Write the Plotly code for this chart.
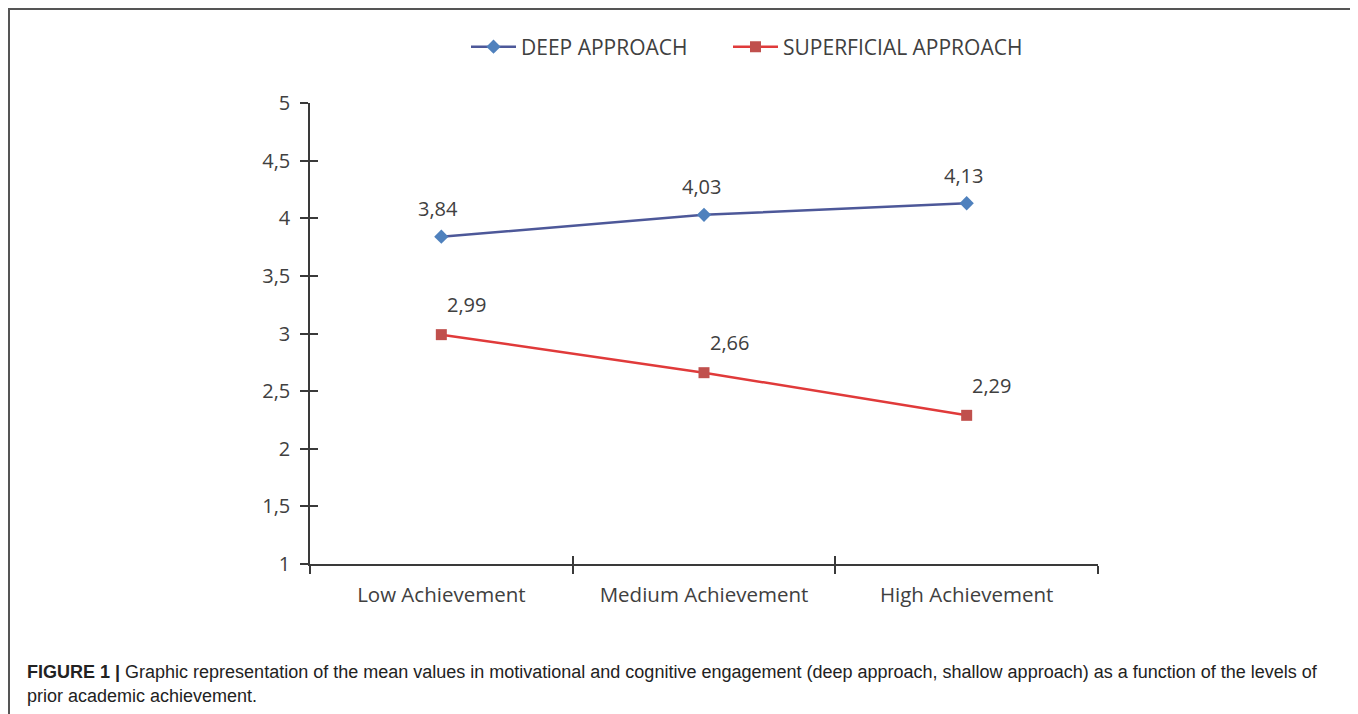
import plotly.graph_objects as go

categories = ["Low Achievement", "Medium Achievement", "High Achievement"]
deep_values = [3.84, 4.03, 4.13]
superficial_values = [2.99, 2.66, 2.29]
series_names = ["DEEP APPROACH", "SUPERFICIAL APPROACH"]
y_tick_values = [1, 1.5, 2, 2.5, 3, 3.5, 4, 4.5, 5]
y_tick_labels = ["1", "1,5", "2", "2,5", "3", "3,5", "4", "4,5", "5"]
caption_bold = "FIGURE 1 |"
caption_line1 = (" Graphic representation of the mean values in motivational and cognitive "
                 "engagement (deep approach, shallow approach) as a function of the levels of")
caption_line2 = "prior academic achievement."


def fmt(v):
    return f"{v:.2f}".replace(".", ",")


# the page body has an 8px margin; coordinates below are given in window pixels
def xp(px):
    return (px - 310) / 788


def yp(py):
    return (564 - py) / 461


CHART_FONT = "Open Sans"
TXT = "#404040"
AX = "#3a3a3a"

fig = go.Figure()
fig.add_trace(go.Scatter(
    x=categories, y=deep_values, name=series_names[0], mode="lines+markers",
    line=dict(color="#4d5899", width=2.5),
    marker=dict(symbol="diamond", size=11, color="#4f81bd"),
    legend="legend",
))
fig.add_trace(go.Scatter(
    x=categories, y=superficial_values, name=series_names[1], mode="lines+markers",
    line=dict(color="#e03a3a", width=2.5),
    marker=dict(symbol="square", size=11, color="#c0504d"),
    legend="legend2",
))

annotations = []
for c, v in zip(categories, deep_values):
    annotations.append(dict(x=c, y=v, xref="x", yref="y", text=fmt(v), showarrow=False,
                            xshift=-3, yshift=28,
                            font=dict(family=CHART_FONT, size=20, color=TXT)))
for c, v in zip(categories, superficial_values):
    annotations.append(dict(x=c, y=v, xref="x", yref="y", text=fmt(v), showarrow=False,
                            xshift=25, yshift=30,
                            font=dict(family=CHART_FONT, size=20, color=TXT)))

# caption
annotations.append(dict(
    x=xp(25), y=yp(672), xref="paper", yref="paper", xanchor="left", yanchor="middle",
    showarrow=False, align="left",
    text=f"<b>{caption_bold}</b>{caption_line1}",
    font=dict(family="Liberation Sans", size=18, color="#222222")))
annotations.append(dict(
    x=xp(25), y=yp(696), xref="paper", yref="paper", xanchor="left", yanchor="middle",
    showarrow=False, align="left", text=caption_line2,
    font=dict(family="Liberation Sans", size=18, color="#222222")))

legend_style = dict(orientation="h", yanchor="middle", xanchor="left", y=yp(47),
                    font=dict(family=CHART_FONT, size=21, color=TXT),
                    itemwidth=45, bgcolor="rgba(0,0,0,0)")

fig.update_layout(
    width=1350, height=706,
    margin=dict(l=302, r=260, t=95, b=150),
    paper_bgcolor="white", plot_bgcolor="white",
    showlegend=True,
    legend=dict(x=xp(466), **legend_style),
    legend2=dict(x=xp(728), **legend_style),
    annotations=annotations,
    xaxis=dict(type="category", range=[-0.5, 2.5], showgrid=False, zeroline=False,
               showline=True, linecolor=AX, linewidth=1.5,
               ticks="outside", ticklen=8, tickwidth=1.5, tickcolor=AX, tickson="boundaries",
               ticklabelstandoff=12,
               tickfont=dict(family=CHART_FONT, size=20.5, color=TXT)),
    yaxis=dict(range=[1, 5], showgrid=False, zeroline=False,
               showline=True, linecolor=AX, linewidth=1.5,
               tickvals=y_tick_values, ticktext=y_tick_labels,
               ticks="outside", ticklen=8, tickwidth=1.5, tickcolor=AX,
               ticklabelstandoff=6,
               tickfont=dict(family=CHART_FONT, size=20, color=TXT)),
    xaxis2=dict(type="category", range=[-0.5, 2.5], overlaying="x", matches="x", showgrid=False,
                zeroline=False, showline=False, ticks="inside", ticklen=8, tickwidth=1.5,
                tickcolor=AX, tickson="boundaries", showticklabels=False),
    yaxis2=dict(range=[1, 5], overlaying="y", showgrid=False, zeroline=False, showline=False,
                tickvals=y_tick_values, ticks="inside", ticklen=8, tickwidth=1.5,
                tickcolor=AX, showticklabels=False),
    shapes=[dict(type="rect", xref="paper", yref="paper",
                 x0=xp(9), x1=xp(1354), y0=yp(730), y1=yp(9),
                 line=dict(color="#555555", width=2), fillcolor="rgba(0,0,0,0)", layer="below")],
)
# invisible trace to activate the overlay axes
fig.add_trace(go.Scatter(x=categories, y=deep_values, xaxis="x2", yaxis="y2", mode="markers",
                         marker=dict(opacity=0), showlegend=False, hoverinfo="skip"))

fig.write_html("out.html")
